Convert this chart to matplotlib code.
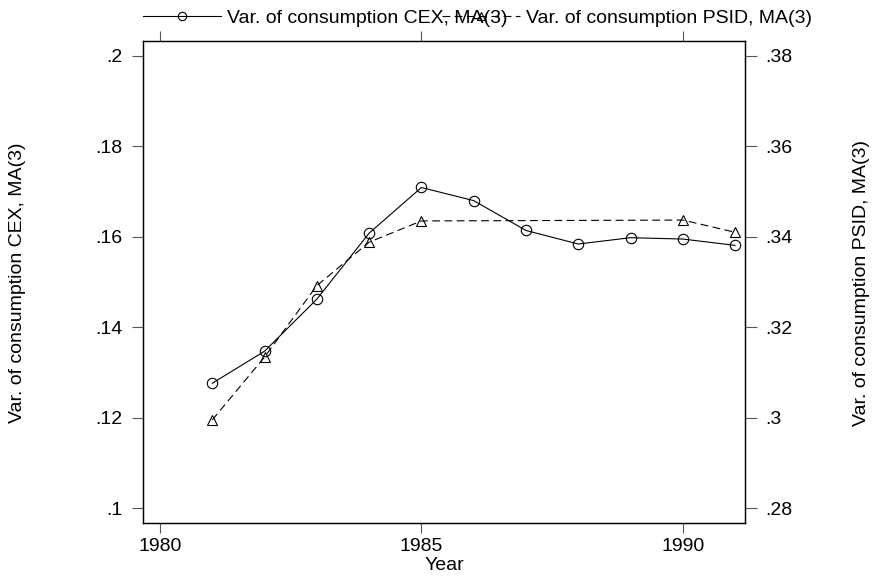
import matplotlib
matplotlib.use("Agg")
import matplotlib.pyplot as plt
from matplotlib.lines import Line2D

plt.rcParams["font.family"] = ["Liberation Sans", "DejaVu Sans"]
plt.rcParams["font.size"] = 14

# CEX series (left axis)
cex_years = [1981, 1982, 1983, 1984, 1985, 1986, 1987, 1988, 1989, 1990, 1991]
cex_var = [0.1276, 0.1347, 0.1462, 0.1608, 0.1709, 0.1680, 0.1614, 0.1584, 0.1598, 0.1595, 0.1581]

# PSID series (right axis), no obs 1986-1989
psid_years = [1981, 1982, 1983, 1984, 1985, 1990, 1991]
psid_var = [0.2995, 0.3134, 0.3292, 0.3388, 0.3435, 0.3437, 0.3410]

cex_label = "Var. of consumption CEX, MA(3)"
psid_label = "Var. of consumption PSID, MA(3)"

fig = plt.figure(figsize=(8.76, 5.79), dpi=100)
ax = fig.add_axes([143 / 876, 1 - 523 / 579, (745 - 143) / 876, (523 - 41) / 579])
ax2 = ax.twinx()

ax.plot(cex_years, cex_var, color="black", lw=0.8, marker="o", ms=7.5,
        mfc="none", mec="black", mew=0.8)
ax2.plot(psid_years, psid_var, color="black", lw=0.8, ls=(0, (7, 4)), marker="^",
         ms=7, mfc="none", mec="black", mew=0.8)

ax.set_xlim(1979.675, 1991.19)
ax.set_ylim(0.0967, 0.2033)
ax2.set_ylim(0.2767, 0.3833)

ax.set_xticks([1980, 1985, 1990])
ax.set_yticks([0.1, 0.12, 0.14, 0.16, 0.18, 0.2])
ax.set_yticklabels([".1", ".12", ".14", ".16", ".18", ".2"])
ax2.set_yticks([0.28, 0.3, 0.32, 0.34, 0.36, 0.38])
ax2.set_yticklabels([".28", ".3", ".32", ".34", ".36", ".38"])

tick_kw = dict(direction="out", width=0.8, color="#555555", labelcolor="black")
ax.tick_params(axis="x", top=True, labeltop=False, length=7.5, pad=3, **tick_kw)
ax.tick_params(axis="y", length=8, pad=6.5, **tick_kw)
ax2.tick_params(axis="y", length=8.5, pad=6, **tick_kw)

for a in (ax, ax2):
    for s in a.spines.values():
        s.set_linewidth(0.9)
        s.set_color("black")

ax.set_xlabel("Year", va="center")
ax.xaxis.set_label_coords(0.5, (523 - 566) / 482)
fig.text(18 / 876, 1 - 283 / 579, cex_label, rotation=90, ha="center", va="center")
fig.text(862 / 876, 1 - 283 / 579, psid_label, rotation=90, ha="center", va="center")

handles = [
    Line2D([], [], color="black", lw=0.8, marker="o", ms=6, mfc="none", mew=0.8),
    Line2D([], [], color="black", lw=0.8, ls=(0, (7, 4)), marker="^", ms=5.5, mfc="none", mew=0.8),
]
fig.legend(handles, [cex_label, psid_label], loc="center left", bbox_to_anchor=(143 / 876, 1 - 18 / 579),
           ncol=2, frameon=False, handlelength=4.0, handletextpad=0.3, columnspacing=-3.35,
           borderpad=0, borderaxespad=0)

fig.savefig("out.png", dpi=100)
